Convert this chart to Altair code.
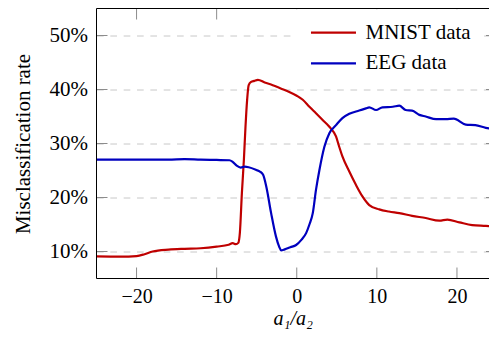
import altair as alt
import pandas as pd

# ---- data ----
x_mnist = [-25, -22, -20, -19, -18, -16, -14, -12, -10, -8.5, -8.0, -7.6, -7.3, -7.1, -6.85, -6.6,
           -6.4, -6.2, -6.0, -5.7, -5.3, -4.85, -4.0, -3.0, -2.0, -1.0, 0.0, 0.75, 1.58, 2.4, 3.2,
           4.07, 4.9, 5.3, 5.7, 6.56, 7.4, 8.2, 9.05, 10.3, 11.5, 12.8, 14.4, 16.1, 17.8, 18.8,
           20.3, 21.9, 23.6, 25]
y_mnist = [9.1, 9.05, 9.15, 9.5, 10.0, 10.35, 10.5, 10.6, 10.9, 11.25, 11.55, 11.35, 11.6, 13.5, 20.8, 27.0,
           33.1, 38.0, 40.8, 41.4, 41.6, 41.8, 41.3, 40.8, 40.2, 39.6, 38.85, 38.1, 36.8, 35.6, 34.4,
           33.1, 31.3, 29.4, 27.6, 24.8, 22.3, 20.2, 18.6, 17.8, 17.4, 17.1, 16.6, 16.2, 15.7, 15.9,
           15.4, 14.9, 14.75, 14.6]

x_eeg = [-25, -20, -16, -14, -12, -10, -8.4, -8.0, -7.5, -7.0, -6.5, -6.0, -5.05, -4.6, -4.2, -3.8,
         -3.2, -2.6, -2.2, -1.95, -1.5, -0.8, -0.08, 0.6, 1.17, 1.58, 2.0, 2.4, 2.83, 3.45, 4.07,
         4.9, 5.7, 6.56, 7.8, 8.64, 9.05, 9.9, 10.7, 12.0, 12.8, 13.6, 14.4, 15.3, 16.1, 17.4,
         18.6, 19.6, 21.1, 22.3, 23.6, 25]
y_eeg = [27.0, 27.0, 27.0, 27.1, 27.0, 26.95, 26.9, 26.6, 25.9, 25.55, 25.7, 25.6, 25.1, 24.8, 24.2, 22.0,
         17.1, 12.8, 10.9, 10.2, 10.4, 10.8, 11.2, 12.2, 13.4, 15.0, 17.1, 21.4, 25.1, 29.4, 31.9,
         33.4, 34.7, 35.5, 36.1, 36.5, 36.7, 36.2, 36.7, 36.8, 37.0, 36.2, 36.1, 35.3, 35.0, 34.5,
         34.5, 34.6, 33.5, 33.4, 32.9, 32.7]

series_names = ["MNIST data", "EEG data"]
series_colors = ["#bf0000", "#0000bf"]
x_ticks = [-20, -10, 0, 10, 20]
y_ticks = [10, 20, 30, 40, 50]

df = pd.concat([
    pd.DataFrame({"x": x_mnist, "y": y_mnist, "series": series_names[0]}),
    pd.DataFrame({"x": x_eeg, "y": y_eeg, "series": series_names[1]}),
], ignore_index=True)
xt = pd.DataFrame({"x": x_ticks})
yt = pd.DataFrame({"y": y_ticks})
one = pd.DataFrame({"k": [0]})

# the window cuts the plot at about x = 24 (right edge of the picture)
W, H = 392.5, 270
TL = 11
FONT = "Liberation Serif"
tick_color = "#8c8c8c"

xscale = alt.Scale(domain=[-25, 24], nice=False, zero=False)
yscale = alt.Scale(domain=[5, 55], nice=False, zero=False)

x_axis = alt.Axis(values=x_ticks, title="a₁/a₂", grid=False, domain=False, ticks=False,
                  labelFontSize=20, labelPadding=8, titleFontStyle="italic", titleFontSize=20,
                  titleBaseline="alphabetic", titleY=46)
y_axis = alt.Axis(values=y_ticks, labelExpr="datum.value + '%'", title="Misclassification rate",
                  grid=True, gridDash=[6.67, 6.67], gridColor="#c8c8c8", gridWidth=1,
                  domain=False, ticks=False, labelPadding=9, titlePadding=16)

X = alt.X("x:Q", scale=xscale, axis=x_axis)
Y = alt.Y("y:Q", scale=yscale, axis=y_axis)

lines = alt.Chart(df).mark_line(strokeWidth=2.2, interpolate="monotone", clip=True).encode(
    x=X, y=Y,
    color=alt.Color("series:N", scale=alt.Scale(domain=series_names, range=series_colors),
                    legend=alt.Legend(title=None, orient="none", legendX=196.6, legendY=0.7,
                                      fillColor="white", padding=13, symbolType="M-1,0H7",
                                      symbolSize=126.6, symbolStrokeWidth=2.2,
                                      labelFont=FONT, labelFontSize=21, labelColor="black",
                                      labelOffset=38.4, rowPadding=8.6)),
)

xb = alt.Chart(xt).mark_rule(color=tick_color, strokeWidth=1).encode(
    x=X, y=alt.value(H - TL), y2=alt.value(H))
xtop = alt.Chart(xt).mark_rule(color=tick_color, strokeWidth=1).encode(
    x=X, y=alt.value(0), y2=alt.value(TL))
yl = alt.Chart(yt).mark_rule(color=tick_color, strokeWidth=1).encode(
    y=Y, x=alt.value(0), x2=alt.value(TL))
yr = alt.Chart(yt).mark_rule(color=tick_color, strokeWidth=1).encode(
    y=Y, x=alt.value(W - 3), x2=alt.value(W))

frame_left = alt.Chart(one).mark_rule(color="black", strokeWidth=1).encode(
    x=alt.value(0), y=alt.value(0), y2=alt.value(H))
frame_top = alt.Chart(one).mark_rule(color="black", strokeWidth=1).encode(
    x=alt.value(0), x2=alt.value(W), y=alt.value(0))
frame_bottom = alt.Chart(one).mark_rule(color="black", strokeWidth=1).encode(
    x=alt.value(0), x2=alt.value(W), y=alt.value(H))

chart = alt.layer(lines, xb, xtop, yl, yr, frame_left, frame_top, frame_bottom).properties(
    width=W, height=H,
    autosize=alt.AutoSizeParams(type="none"),
    padding={"left": 88.5, "top": 0.5, "right": 0, "bottom": 50.5},
).configure_view(
    stroke="transparent"
).configure_axis(
    labelFont=FONT, labelFontSize=21, labelColor="black",
    titleFont=FONT, titleFontSize=21, titleColor="black", titleFontWeight="normal",
)

chart.save("out.html", embed_options={"renderer": "svg", "actions": False})
